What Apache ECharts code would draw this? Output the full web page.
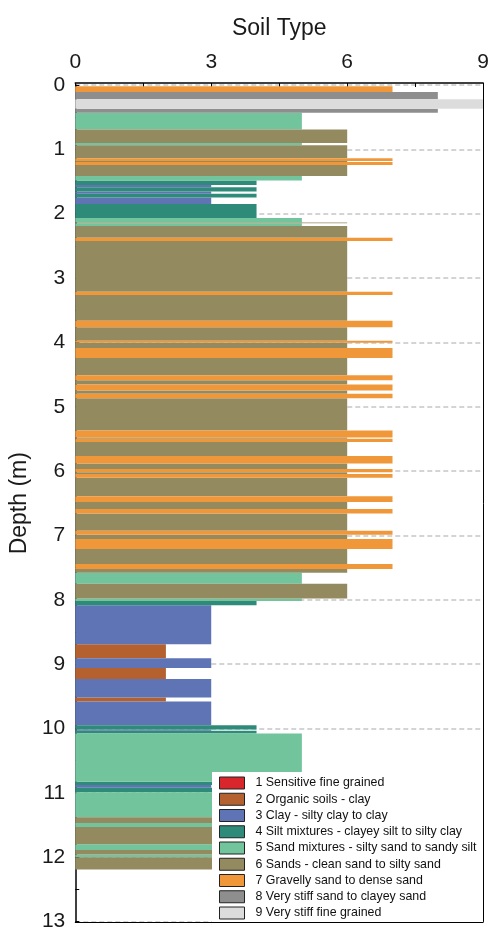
<!DOCTYPE html>
<html>
<head>
<meta charset="utf-8">
<title>Soil Behaviour Type Profile</title>
<script src="https://cdn.jsdelivr.net/npm/echarts@6/dist/echarts.min.js"></script>
<style>
  html, body { margin: 0; padding: 0; background: #ffffff; }
  #chart { width: 492px; height: 932px; }
</style>
</head>
<body>
<div id="chart"></div>
<script>
// Soil behaviour type (SBT) profile: each layer runs from its top depth
// to the top of the next layer; the last one ends at profileBottom.
const layerTops = [
  0.02, 0.11, 0.22, 0.37, 0.43, 0.69, 0.90, 0.935, 1.14, 1.18,
  1.195, 1.245, 1.415, 1.486, 1.553, 1.59, 1.657, 1.692, 1.748, 1.85,
  2.067, 2.135, 2.15, 2.19, 2.375, 2.425, 3.214, 3.265, 3.662, 3.764,
  3.975, 4.006, 4.088, 4.242, 4.51, 4.59, 4.654, 4.747, 4.80, 4.87,
  5.369, 5.477, 5.498, 5.549, 5.765, 5.884, 5.966, 6.02, 6.045, 6.105,
  6.393, 6.48, 6.588, 6.66, 6.927, 6.99, 7.057, 7.21, 7.443, 7.52,
  7.58, 7.75, 7.98, 8.02, 8.085, 8.69, 8.91, 9.06, 9.23, 9.52,
  9.58, 9.95, 10.015, 10.035, 10.08, 10.83, 10.88, 10.92, 10.99, 11.38,
  11.47, 11.53, 11.80, 11.89, 11.96, 12.00
];
const layerTypes = [
  7, 8, 9, 8, 5, 6, 5, 6, 7, 6,
  7, 6, 5, 4, 3, 4, 3, 4, 3, 4,
  5, 6, 5, 6, 7, 6, 7, 6, 7, 6,
  7, 6, 7, 6, 7, 6, 7, 6, 7, 6,
  7, 6, 7, 6, 7, 6, 7, 6, 7, 6,
  7, 6, 7, 6, 7, 6, 7, 6, 7, 6,
  5, 6, 5, 4, 3, 2, 3, 2, 3, 2,
  3, 4, 3, 4, 5, 4, 3, 4, 5, 6,
  5, 6, 5, 6, 5, 6
];
const profileBottom = 12.19;

const soilTypeNames = [
  '1 Sensitive fine grained',
  '2 Organic soils - clay',
  '3 Clay - silty clay to clay',
  '4 Silt mixtures - clayey silt to silty clay',
  '5 Sand mixtures - silty sand to sandy silt',
  '6 Sands - clean sand to silty sand',
  '7 Gravelly sand to dense sand',
  '8 Very stiff sand to clayey sand',
  '9 Very stiff fine grained'
];
const soilTypeTicks = [0, 3, 6, 9];
const depthTicks = [0, 1, 2, 3, 4, 5, 6, 7, 8, 9, 10, 11, 12, 13];

const soilTypeColors = [
  '#d9262c', '#b4612f', '#5e74b4', '#2f8b79', '#72c49c',
  '#938a60', '#f0973a', '#8e8e8e', '#dcdcdc'
];

// Rows of [soil type, top depth, bottom depth], grouped by soil type
const rowsByType = soilTypeNames.map(() => []);
layerTops.forEach((top, i) => {
  const bottom = i + 1 < layerTops.length ? layerTops[i + 1] : profileBottom;
  const t = layerTypes[i];
  rowsByType[t - 1].push([t, top, bottom]);
});

function renderLayer(params, api) {
  const p0 = api.coord([0, api.value(1)]);
  const p1 = api.coord([api.value(0), api.value(2)]);
  return {
    type: 'rect',
    shape: {
      x: p0[0],
      y: Math.min(p0[1], p1[1]),
      width: p1[0] - p0[0],
      height: Math.abs(p1[1] - p0[1])
    },
    style: { fill: api.visual('color') }
  };
}

const labelFont = 'Liberation Sans, Arial, sans-serif';
const xMin = soilTypeTicks[0];
const xMax = soilTypeTicks[soilTypeTicks.length - 1];
const xStep = soilTypeTicks[1] - soilTypeTicks[0];
const yMin = depthTicks[0];
const yMax = depthTicks[depthTicks.length - 1];
const yStep = depthTicks[1] - depthTicks[0];

// Plain frame line used for the right and bottom edges of the plot box,
// kept above the legend box
const frameAxis = {
  type: 'value',
  z: 6,
  axisLine: { show: true, onZero: false, lineStyle: { color: '#000000', width: 1 } },
  axisTick: { show: false },
  axisLabel: { show: false },
  splitLine: { show: false }
};

const chart = echarts.init(document.getElementById('chart'), null, { renderer: 'canvas' });
chart.setOption({
  animation: false,
  backgroundColor: '#ffffff',
  grid: { left: 75, right: 5, top: 85, bottom: 5 },
  xAxis: [{
    type: 'value',
    position: 'top',
    offset: 2,
    min: xMin, max: xMax, interval: xStep,
    name: 'Soil Type',
    nameLocation: 'middle',
    nameGap: 43,
    nameTextStyle: { fontSize: 23, color: '#1a1a1a', fontFamily: labelFont },
    axisLine: { show: true, onZero: false, lineStyle: { color: '#000000', width: 1.5 } },
    axisTick: { show: true, inside: true, length: 4, lineStyle: { color: '#000000' } },
    minorTick: { show: true, splitNumber: 2, length: 4, lineStyle: { color: '#000000' } },
    axisLabel: { fontSize: 21, color: '#1a1a1a', fontFamily: labelFont, margin: 10 },
    splitLine: { show: false }
  }, Object.assign({}, frameAxis, {
    position: 'bottom', offset: 1, min: xMin, max: xMax
  })],
  yAxis: [{
    type: 'value',
    inverse: true,
    min: yMin, max: yMax, interval: yStep,
    name: 'Depth (m)',
    nameLocation: 'middle',
    nameRotate: 90,
    nameGap: 32,
    nameTextStyle: { fontSize: 23, color: '#1a1a1a', fontFamily: labelFont },
    axisLine: { show: true, onZero: false, lineStyle: { color: '#000000', width: 1.5 } },
    axisTick: { show: true, inside: true, length: 4, lineStyle: { color: '#000000' } },
    minorTick: { show: true, splitNumber: 2, length: 4, lineStyle: { color: '#000000' } },
    axisLabel: { fontSize: 21, color: '#1a1a1a', fontFamily: labelFont, margin: 10 },
    splitLine: { show: true, lineStyle: { color: '#c6c6c6', width: 1.5, type: [5, 3] } }
  }, Object.assign({}, frameAxis, {
    position: 'right', inverse: true, min: yMin, max: yMax
  })],
  legend: {
    orient: 'vertical',
    left: 212,
    top: 772,
    padding: [3, 6, 7, 7],
    backgroundColor: '#ffffff',
    icon: 'rect',
    itemWidth: 25,
    itemHeight: 12,
    itemGap: 0.25,
    selectedMode: false,
    itemStyle: { borderColor: '#222222', borderWidth: 1 },
    textStyle: {
      fontFamily: labelFont,
      fontSize: 12.4, color: '#111111', lineHeight: 16, padding: [0, 0, 0, 6]
    },
    data: soilTypeNames
  },
  series: soilTypeNames.map((name, i) => ({
    type: 'custom',
    name: name,
    xAxisIndex: 0,
    yAxisIndex: 0,
    renderItem: renderLayer,
    itemStyle: { color: soilTypeColors[i] },
    encode: { x: 0, y: [1, 2] },
    clip: true,
    data: rowsByType[i]
  }))
});
</script>
</body>
</html>
